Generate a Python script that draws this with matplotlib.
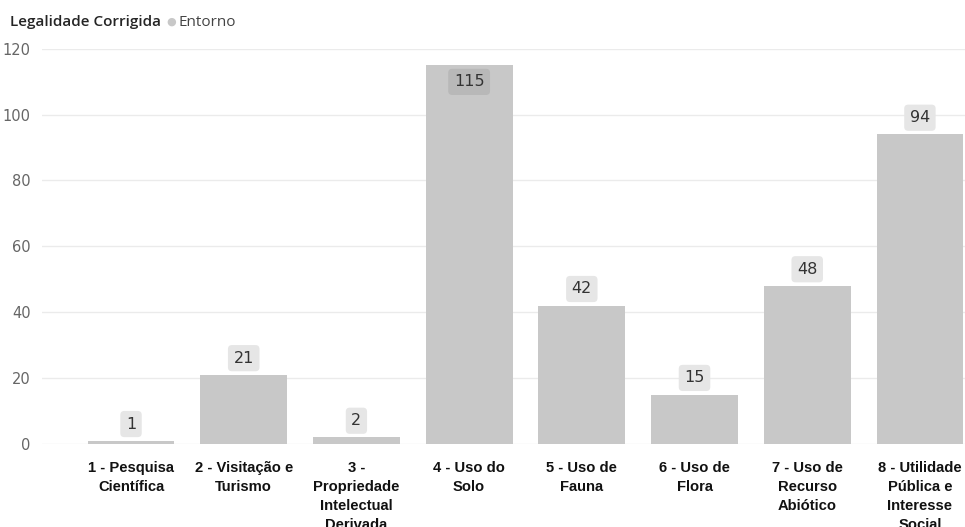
import matplotlib.pyplot as plt

categories = ["1 - Pesquisa\nCientífica", "2 - Visitação e\nTurismo", "3 -\nPropriedade\nIntelectual\nDerivada",
              "4 - Uso do\nSolo", "5 - Uso de\nFauna", "6 - Uso de\nFlora", "7 - Uso de\nRecurso\nAbiótico",
              "8 - Utilidade\nPública e\nInteresse\nSocial"]
values = [1, 21, 2, 115, 42, 15, 48, 94]
yticks = [0, 20, 40, 60, 80, 100, 120]

fig = plt.figure(figsize=(9.65, 5.27), dpi=100)
ax = fig.add_axes([0.0435, 0.1575, 0.9565, 0.75])

x = range(len(values))
bars = ax.bar(x, values, width=0.77, color="#c8c8c8", zorder=2)

ax.set_ylim(0, 120)
ax.set_xlim(-0.79, 7.4)
ax.set_yticks(yticks)
ax.grid(axis="y", color="#ebebeb", linewidth=1, zorder=0)
for s in ax.spines.values():
    s.set_visible(False)
ax.tick_params(axis="y", length=0, labelsize=10.5, labelcolor="#666666", pad=8)
ax.tick_params(axis="x", length=0, pad=12)
ax.set_xticks(list(x))
ax.set_xticklabels(categories, fontsize=10.6, fontweight="bold", family="Liberation Sans",
                   va="top", linespacing=1.45, color="#111111")

for xi, v in zip(x, values):
    if v > 110:
        ax.annotate(str(v), (xi, v), xytext=(0, -12), textcoords="offset points",
                    ha="center", va="center", fontsize=11.5, color="#333333",
                    bbox=dict(boxstyle="round,pad=0.35,rounding_size=0.25", fc="#b8b8b8", ec="none"))
    else:
        ax.annotate(str(v), (xi, v), xytext=(0, 12), textcoords="offset points",
                    ha="center", va="center", fontsize=11.5, color="#333333",
                    bbox=dict(boxstyle="round,pad=0.35,rounding_size=0.25", fc="#e6e6e6", ec="none"))

fig.text(0.01, 0.958, "Legalidade Corrigida", fontsize=11, fontweight="semibold",
         color="#252525", va="center", family="Open Sans")
fig.text(0.172, 0.958, "●", fontsize=8, color="#c8c8c8", va="center")
fig.text(0.185, 0.958, "Entorno", fontsize=11, color="#444444", va="center", family="Open Sans")

fig.savefig("out.png", dpi=100)
